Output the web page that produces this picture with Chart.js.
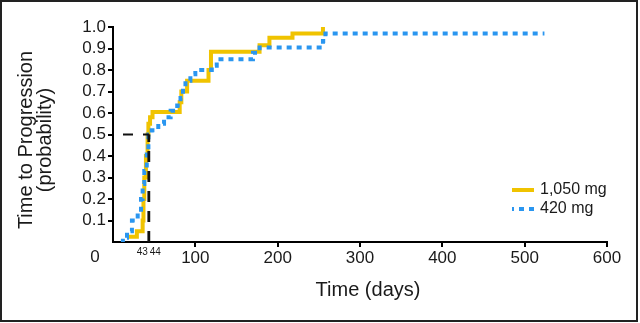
<!DOCTYPE html>
<html>
<head>
<meta charset="utf-8">
<script src="https://cdn.jsdelivr.net/npm/chart.js"></script>
<style>
  html, body { margin: 0; padding: 0; background: #fff; }
  canvas { display: block; }
</style>
</head>
<body>
<canvas id="ttpChart" width="640" height="323"></canvas>
<script>
// --------------------------
// Data
// --------------------------
const seriesNames = ['1,050 mg', '420 mg'];

// 1,050 mg arm: Kaplan-Meier steps (days, probability)
const days1050 = [17, 29, 36, 37, 38, 40, 42, 43, 45, 48, 81, 83, 90, 116, 119, 178, 190, 218, 255];
const prob1050 = [0.025, 0.05, 0.1, 0.2, 0.3, 0.4, 0.5, 0.55, 0.58, 0.605, 0.65, 0.7, 0.75, 0.8, 0.885, 0.915, 0.95, 0.97, 1.0];

// 420 mg arm
const days420 = [10, 12, 17, 23, 30, 34, 36, 38, 41, 43, 47, 55, 62, 70, 78, 82, 85, 88, 94, 100, 120, 126, 170, 178, 255, 258, 524];
const prob420 = [0, 0.02, 0.05, 0.1, 0.15, 0.2, 0.27, 0.33, 0.42, 0.5, 0.52, 0.55, 0.58, 0.61, 0.635, 0.67, 0.72, 0.75, 0.78, 0.8, 0.82, 0.85, 0.88, 0.905, 0.935, 0.97, 0.97];

// median time to progression markers
const medianDays = [43, 44];
const medianProb = 0.5;

// axes
const xTicks = [0, 100, 200, 300, 400, 500, 600];
const yTicks = [0, 0.1, 0.2, 0.3, 0.4, 0.5, 0.6, 0.7, 0.8, 0.9, 1.0];

const yellow = '#F0C300';
const blue = '#2A96F0';
const ink = '#1a1a1a';
const fontFamily = '"Liberation Sans", Arial, sans-serif';

const toPoints = (xs, ys) => xs.map((x, i) => ({ x: x, y: ys[i] }));

// --------------------------
// Extra drawing: frame, titles, legend, median labels
// --------------------------
const decorations = {
  id: 'decorations',
  beforeDraw(chart) {
    const ctx = chart.ctx;
    ctx.save();
    ctx.fillStyle = '#fff';
    ctx.fillRect(0, 0, chart.width, chart.height);
    ctx.restore();
  },
  afterDraw(chart) {
    const ctx = chart.ctx;
    const xs = chart.scales.x;
    const ys = chart.scales.y;
    ctx.save();

    // frame
    ctx.strokeStyle = '#222';
    ctx.lineWidth = 2;
    ctx.strokeRect(1, 1, 636, 320);

    ctx.fillStyle = ink;

    // axis titles
    ctx.font = '20px ' + fontFamily;
    ctx.textAlign = 'center';
    ctx.textBaseline = 'middle';
    ctx.fillText('Time (days)', 368, 290);

    ctx.save();
    ctx.translate(26, 140);
    ctx.rotate(-Math.PI / 2);
    ctx.fillText('Time to Progression', 0, 0);
    ctx.fillText('(probability)', 0, 19);
    ctx.restore();

    // origin label
    ctx.font = '17px ' + fontFamily;
    ctx.fillText('0', xs.getPixelForValue(0) - 18, ys.getPixelForValue(0) + 15);

    // median labels
    ctx.font = '10px ' + fontFamily;
    ctx.textAlign = 'right';
    ctx.fillText(String(medianDays[0]), xs.getPixelForValue(medianDays[0]) - 0.5, ys.getPixelForValue(0) + 10);
    ctx.textAlign = 'left';
    ctx.fillText(String(medianDays[1]), xs.getPixelForValue(medianDays[1]) + 0.5, ys.getPixelForValue(0) + 10);

    // legend
    const lx = 512, lw = 22;
    ctx.font = '16px ' + fontFamily;
    ctx.textAlign = 'left';
    ctx.lineWidth = 4;
    ctx.lineCap = 'butt';

    ctx.strokeStyle = yellow;
    ctx.beginPath();
    ctx.moveTo(lx, 190);
    ctx.lineTo(lx + lw, 190);
    ctx.stroke();
    ctx.fillText(seriesNames[0], 540, 190);

    ctx.strokeStyle = blue;
    ctx.setLineDash([5, 5]);
    ctx.lineDashOffset = 3;
    ctx.beginPath();
    ctx.moveTo(lx, 209);
    ctx.lineTo(lx + lw, 209);
    ctx.stroke();
    ctx.setLineDash([]);
    ctx.fillText(seriesNames[1], 540, 209);

    ctx.restore();
  }
};

const tickColor = (c) => (c.tick && c.tick.value === 0 ? 'rgba(0,0,0,0)' : '#000');

new Chart(document.getElementById('ttpChart'), {
  type: 'line',
  data: {
    datasets: [
      {
        label: 'median h',
        data: [{ x: 0, y: medianProb }, { x: medianDays[1], y: medianProb }],
        borderColor: '#111',
        borderWidth: 2,
        borderDash: [10, 10],
        borderDashOffset: 10,
        pointRadius: 0,
        order: 0
      },
      {
        label: 'median 43',
        data: [{ x: medianDays[0], y: 0 }, { x: medianDays[0], y: medianProb }],
        borderColor: '#111',
        borderWidth: 2,
        borderDash: [11, 9],
        pointRadius: 0,
        order: 0
      },
      {
        label: 'median 44',
        data: [{ x: medianDays[1], y: 0 }, { x: medianDays[1], y: medianProb }],
        borderColor: '#111',
        borderWidth: 2,
        borderDash: [11, 9],
        pointRadius: 0,
        order: 0
      },
      {
        label: seriesNames[1],
        data: toPoints(days420, prob420),
        borderColor: blue,
        borderWidth: 4,
        borderDash: [5, 5],
        borderCapStyle: 'butt',
        stepped: 'before',
        pointRadius: 0,
        order: 1
      },
      {
        label: seriesNames[0],
        data: toPoints(days1050, prob1050),
        borderColor: yellow,
        borderWidth: 4,
        borderJoinStyle: 'miter',
        stepped: 'before',
        pointRadius: 0,
        order: 2
      }
    ]
  },
  options: {
    responsive: false,
    devicePixelRatio: 1,
    animation: false,
    layout: { padding: { left: 0, right: 33, top: 27, bottom: 0 } },
    plugins: {
      legend: { display: false },
      tooltip: { enabled: false }
    },
    scales: {
      x: {
        type: 'linear',
        min: xTicks[0],
        max: xTicks[xTicks.length - 1],
        afterBuildTicks: (s) => { s.ticks = xTicks.map(v => ({ value: v })); },
        afterFit: (s) => { s.height = 81; },
        ticks: {
          color: ink,
          font: { family: fontFamily, size: 17 },
          padding: 1,
          maxRotation: 0,
          callback: (v) => (v === 0 ? '' : String(v))
        },
        grid: { drawOnChartArea: false, drawTicks: true, tickLength: 5, lineWidth: 2, color: tickColor },
        border: { display: true, color: '#000', width: 2 }
      },
      y: {
        min: 0,
        max: 1,
        afterBuildTicks: (s) => { s.ticks = yTicks.map(v => ({ value: v })); },
        afterFit: (s) => { s.width = 113; },
        ticks: {
          color: ink,
          font: { family: fontFamily, size: 17 },
          padding: 2,
          autoSkip: false,
          callback: (v) => (v === 0 ? '' : v.toFixed(1))
        },
        grid: { drawOnChartArea: false, drawTicks: true, tickLength: 5, lineWidth: 2, color: tickColor },
        border: { display: true, color: '#000', width: 2 }
      }
    }
  },
  plugins: [decorations]
});
</script>
</body>
</html>
